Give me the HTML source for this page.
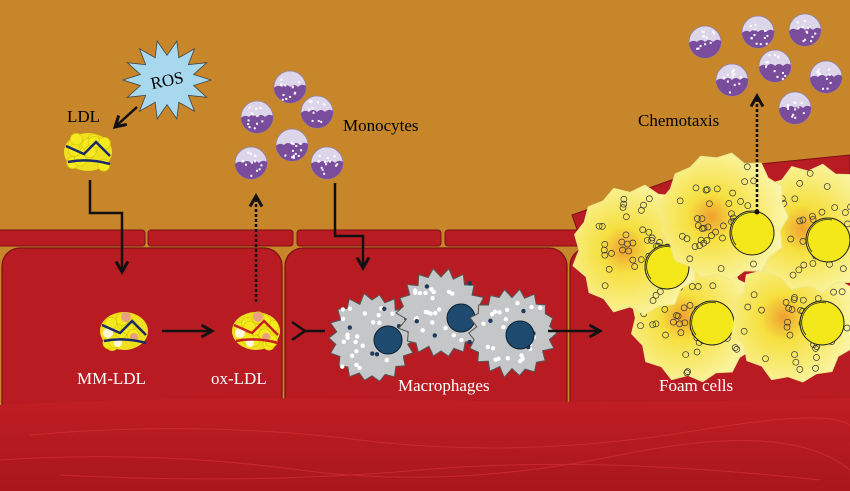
<!DOCTYPE html>
<html><head><meta charset="utf-8"><style>
html,body{margin:0;padding:0;width:850px;height:491px;overflow:hidden;background:#c8862b}
svg{display:block}
text{font-family:"Liberation Serif",serif}
</style></head><body>
<svg id="s" width="850" height="491" viewBox="0 0 850 491" xmlns="http://www.w3.org/2000/svg">
<defs>
<radialGradient id="foam" cx="0.4" cy="0.5" r="0.6"><stop offset="0" stop-color="#f0a030"/><stop offset="0.3" stop-color="#f6e040"/><stop offset="1" stop-color="#fbf7b0"/></radialGradient>
<linearGradient id="tis" x1="0" y1="0" x2="0" y2="1"><stop offset="0" stop-color="#c01e24"/><stop offset="1" stop-color="#a8161c"/></linearGradient>
<marker id="ah" viewBox="0 0 10 10" refX="8" refY="5" markerWidth="6" markerHeight="6" orient="auto"><path d="M1,1 L8,5 L1,9" fill="none" stroke="#111" stroke-width="2"/></marker>
</defs>
<rect width="850" height="491" fill="#c8862b"/>
<g fill="#b81c22" stroke="#7a1014" stroke-width="1">
<rect x="-5" y="230" width="150" height="16" rx="3"/>
<rect x="148" y="230" width="145" height="16" rx="3"/>
<rect x="297" y="230" width="144" height="16" rx="3"/>
<rect x="445" y="230" width="150" height="16" rx="3"/>
<path d="M572,215 L700,170 L850,155 L850,175 L700,190 L578,232 Z"/>
</g>
<g fill="#b81c22" stroke="#7a1014" stroke-width="1.2">
<rect x="2" y="248" width="280" height="190" rx="18"/>
<rect x="285" y="248" width="282" height="190" rx="18"/>
<rect x="570" y="248" width="290" height="190" rx="18"/>
</g>
<path d="M0,405 Q200,395 420,400 T850,398 L850,491 L0,491 Z" fill="url(#tis)"/>
<g stroke="#d8343a" stroke-width="1" fill="none" opacity="0.6">
<path d="M30,435 Q200,420 360,440 T700,430 T850,445"/>
<path d="M0,460 Q150,450 300,470 T620,455 T850,470"/>
<path d="M60,475 Q250,485 420,470 T820,480"/>
</g>
<g id="dyn"></g>
<g stroke="#111" stroke-width="2.5" fill="none">
<line x1="137" y1="107" x2="115" y2="127" marker-end="url(#ah)"/>
<polyline points="90,180 90,213 122,213 122,272" marker-end="url(#ah)"/>
<line x1="162" y1="331" x2="212" y2="331" marker-end="url(#ah)"/>
<line x1="256" y1="302" x2="256" y2="196" stroke-dasharray="3,2" marker-end="url(#ah)"/>
<polyline points="335,183 335,236 363,236 363,268" marker-end="url(#ah)"/>
<polyline points="292,322 305,331 292,340"/>
<line x1="305" y1="331" x2="325" y2="331"/>
<line x1="548" y1="331" x2="600" y2="331" marker-end="url(#ah)"/>
</g>
<polygon id="ros" fill="#a8d8ee" stroke="#444" stroke-width="0.8"/>
<text x="167" y="86" font-size="17" text-anchor="middle" transform="rotate(-12 167 80)">ROS</text>
<text x="67" y="122" font-size="17">LDL</text>
<text x="343" y="131" font-size="17">Monocytes</text>
<text x="638" y="126" font-size="17">Chemotaxis</text>
<g fill="#fff" font-size="17">
<text x="77" y="384">MM-LDL</text>
<text x="211" y="384">ox-LDL</text>
<text x="398" y="391">Macrophages</text>
<text x="659" y="391">Foam cells</text>
</g>
<g id="top"></g>
</svg>
<script>
var NS="http://www.w3.org/2000/svg",g=document.getElementById("dyn");
function el(t,a,p){var e=document.createElementNS(NS,t);for(var k in a)e.setAttribute(k,a[k]);(p||g).appendChild(e);return e;}
var seed=7;function r(){seed=(seed*9301+49297)%233280;return seed/233280;}
function spiky(cx,cy,R,n,amp){var p=[];for(var i=0;i<n*2;i++){var a=i*Math.PI/n,rr=(i%2?R-amp*(0.5+r()*0.5):R+amp*0.3*r());p.push((cx+rr*Math.cos(a)).toFixed(1)+","+(cy+rr*Math.sin(a)).toFixed(1));}return p.join(" ");}
var p=[];for(var i=0;i<28;i++){var a=i*Math.PI/14,rr=i%2?26:42;p.push((167+rr*Math.cos(a)*1.05)+","+(80+rr*Math.sin(a)*0.95));}
document.getElementById("ros").setAttribute("points",p.join(" "));
function ldl(cx,cy,line,bits){el("ellipse",{cx:cx,cy:cy,rx:24,ry:19,fill:"#f0e020"});
for(var i=0;i<14;i++){el("circle",{cx:cx-18+r()*36,cy:cy-14+r()*28,r:6,fill:"#f5ea20",stroke:"#d8c800","stroke-width":0.7});}
if(bits){el("circle",{cx:cx-16,cy:cy+2,r:5,fill:"#fff8d8"});el("circle",{cx:cx+2,cy:cy-14,r:5,fill:"#e8a080"});el("circle",{cx:cx+10,cy:cy+6,r:4,fill:"#e8a080"});el("circle",{cx:cx-6,cy:cy+12,r:4,fill:"#fff8d8"});}
el("path",{d:"M"+(cx-22)+","+(cy-6)+" L"+(cx-4)+","+(cy+2)+" L"+(cx+8)+","+(cy-10)+" L"+(cx+22)+","+(cy+4),fill:"none",stroke:line,"stroke-width":2.5});
el("path",{d:"M"+(cx-20)+","+(cy+10)+" Q"+cx+","+(cy+6)+" "+(cx+22)+","+(cy+12),fill:"none",stroke:line,"stroke-width":2.5});}
ldl(88,152,"#1c2a6a",false);ldl(124,331,"#1c2a6a",true);ldl(256,331,"#c82020",true);
function mono(cx,cy){el("circle",{cx:cx,cy:cy,r:16,fill:"#ddd6ea",stroke:"#9080a8","stroke-width":0.8});
el("path",{d:"M"+(cx-16)+","+(cy+1)+" q4,-4 8,-1 q4,-4 8,0 q4,-4 8,0 q4,-4 8,-1 A16,16 0 0 1 "+(cx-16)+","+(cy+1)+"Z",fill:"#7a4c9c"});
for(var i=0;i<12;i++)el("rect",{x:cx-10+r()*20,y:cy-12+r()*24,width:2,height:2,fill:"#fff"});}
[[290,87],[317,112],[257,117],[292,145],[251,163],[327,163],[705,42],[758,32],[805,30],[732,80],[775,66],[826,77],[795,108]].forEach(function(m){mono(m[0],m[1]);});
function mac(cx,cy,nx,ny){el("polygon",{points:spiky(cx,cy,43,18,8),fill:"#c4c6c8",stroke:"#555","stroke-width":1});
for(var i=0;i<24;i++)el("circle",{cx:cx-30+r()*60,cy:cy-30+r()*60,r:2.2,fill:"#fff"});
for(var i=0;i<6;i++)el("circle",{cx:cx-30+r()*60,cy:cy-30+r()*60,r:2.2,fill:"#1f3a5a"});
el("circle",{cx:nx,cy:ny,r:14,fill:"#1e4a70",stroke:"#0d2030","stroke-width":1});}
mac(372,338,388,340);mac(441,313,461,318);mac(512,333,520,335);
function foam(cx,cy,nx,ny){el("polygon",{points:spiky(cx,cy,64,13,7),fill:"url(#foam)",stroke:"#f0e890","stroke-width":1,"stroke-linejoin":"round"});
for(var i=0;i<45;i++){var a=r()*6.28,d=8+r()*48;el("circle",{cx:cx+d*Math.cos(a),cy:cy+d*Math.sin(a),r:3,fill:"none",stroke:"#333","stroke-width":0.7});}
el("circle",{cx:nx,cy:ny,r:22,fill:"#f4e81a",stroke:"#222","stroke-width":1});
el("path",{d:"M"+(nx-16)+","+(ny+12)+" A20,20 0 0 1 "+(nx+4)+","+(ny-20),fill:"none",stroke:"#222","stroke-width":0.8});}
foam(695,318,712,323);foam(795,318,822,323);foam(637,250,667,267);foam(815,228,828,240);foam(724,217,752,233);
var t=document.getElementById("top");
el("line",{x1:757,y1:212,x2:757,y2:96,stroke:"#111","stroke-width":2.5,"stroke-dasharray":"3,2","marker-end":"url(#ah)"},t);
el("circle",{cx:757,cy:212,r:2.5,fill:"#111"},t);
</script>
</body></html>
